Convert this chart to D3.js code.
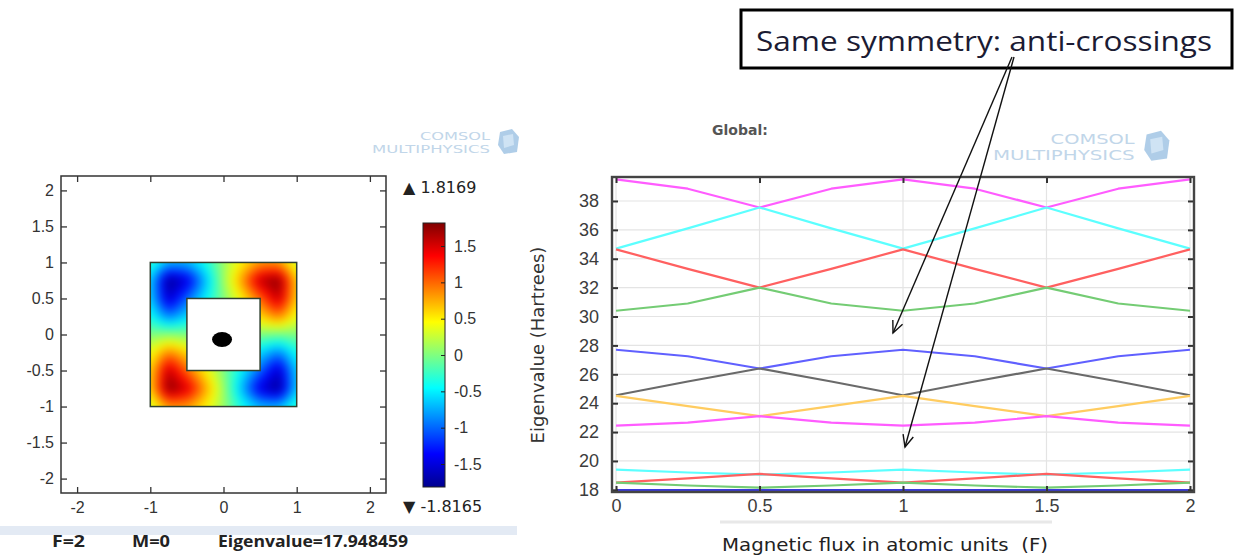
<!DOCTYPE html>
<html>
<head>
<meta charset="utf-8">
<script src="https://cdn.jsdelivr.net/npm/d3@7"></script>
<style>
  body { margin: 0; background: #fff; }
  svg { display: block; }
</style>
</head>
<body>
<svg id="chart"></svg>
<script>
// ---- left panel: surface plot of the eigenmode ----
const fieldX = [-1, -0.75, -0.5, -0.25, 0, 0.25, 0.5, 0.75, 1]
const fieldY = [1, 0.75, 0.5, 0.25, 0, -0.25, -0.5, -0.75, -1]
// rows follow fieldY (top to bottom), columns follow fieldX
const fieldValues = [
  [-0.3, -0.7, -0.7, -0.4, 0.1, 0.5, 0.8, 0.8, 0.3],
  [-0.6, -1.8, -1.5, -0.7, 0.1, 0.8, 1.6, 1.8, 0.6],
  [-0.6, -1.6, -1.0, -0.5, 0.0, 0.5, 1.0, 1.6, 0.6],
  [-0.4, -0.9, -0.6, -0.3, 0.0, 0.3, 0.6, 0.9, 0.4],
  [0.0, 0.05, 0.0, 0.0, 0.0, 0.0, 0.0, -0.05, 0.0],
  [0.4, 0.9, 0.6, 0.3, 0.0, -0.3, -0.6, -0.9, -0.4],
  [0.6, 1.6, 1.0, 0.5, 0.0, -0.5, -1.0, -1.6, -0.6],
  [0.6, 1.8, 1.5, 0.8, 0.1, -0.7, -1.5, -1.8, -0.6],
  [0.3, 0.8, 0.8, 0.5, 0.1, -0.4, -0.7, -0.7, -0.3]
]
const fieldMin = -1.8165
const fieldMax = 1.8169
const plotTicksX = [-2, -1, 0, 1, 2]
const plotTicksY = [-2, -1.5, -1, -0.5, 0, 0.5, 1, 1.5, 2]
const barTicks = [-1.5, -1, -0.5, 0, 0.5, 1, 1.5]
const infoLabels = ['F=2', 'M=0', 'Eigenvalue=17.948459']

// ---- right panel: eigenvalues vs magnetic flux ----
const flux = [0, 0.25, 0.5, 0.75, 1, 1.25, 1.5, 1.75, 2]
const eMagentaTop = [39.5, 38.85, 37.55, 38.85, 39.5, 38.85, 37.55, 38.85, 39.5]
const eCyanTop = [34.7, 36.1, 37.55, 36.1, 34.7, 36.1, 37.55, 36.1, 34.7]
const eRedTop = [34.65, 33.3, 32.0, 33.3, 34.65, 33.3, 32.0, 33.3, 34.65]
const eGreenTop = [30.4, 30.9, 32.0, 30.9, 30.4, 30.9, 32.0, 30.9, 30.4]
const eBlueTop = [27.7, 27.25, 26.4, 27.25, 27.7, 27.25, 26.4, 27.25, 27.7]
const eGray = [24.55, 25.5, 26.4, 25.5, 24.55, 25.5, 26.4, 25.5, 24.55]
const eOrange = [24.5, 23.8, 23.1, 23.8, 24.5, 23.8, 23.1, 23.8, 24.5]
const eMagentaLow = [22.45, 22.65, 23.1, 22.65, 22.45, 22.65, 23.1, 22.65, 22.45]
const eCyanLow = [19.4, 19.2, 19.05, 19.2, 19.4, 19.2, 19.05, 19.2, 19.4]
const eRedLow = [18.5, 18.8, 19.1, 18.8, 18.5, 18.8, 19.1, 18.8, 18.5]
const eGreenLow = [18.5, 18.3, 18.15, 18.3, 18.5, 18.3, 18.15, 18.3, 18.5]
const eBlueLow = [17.95, 17.95, 17.95, 17.95, 17.95, 17.95, 17.95, 17.95, 17.95]
const fluxTicks = [0, 0.5, 1, 1.5, 2]
const eigenTicks = [18, 20, 22, 24, 26, 28, 30, 32, 34, 36, 38]

const W = 1235, H = 559
const svg = d3.select('#chart').attr('width', W).attr('height', H)
svg.append('rect').attr('width', W).attr('height', H).attr('fill', '#fff')

const tickFont = 'DejaVu Sans, sans-serif'
const plain = d => String(d)   // keep ASCII hyphen for negatives

// jet-like colour map (COMSOL Rainbow)
const jetStops = [0, 0.125, 0.375, 0.625, 0.875, 1]
const jet = d3.scaleLinear()
  .domain(jetStops.map(t => fieldMin + (fieldMax - fieldMin) * t))
  .range(['#00008f', '#0000ff', '#00ffff', '#ffff00', '#ff0000', '#800000'])
  .clamp(true)

// ================= left panel =================
const lx = d3.scaleLinear().domain([-2.22, 2.22]).range([61, 386])
const ly = d3.scaleLinear().domain([-2.2, 2.2]).range([493, 176])

// field image rendered on a canvas, then clipped to the ring domain
const fx0 = lx(-1), fx1 = lx(1), fy0 = ly(1), fy1 = ly(-1)
const pad = 12
const cw = Math.round(fx1 - fx0) + 2 * pad
const ch = Math.round(fy1 - fy0) + 2 * pad

function sampleField(x, y) {
  const step = fieldX[1] - fieldX[0]
  const n = fieldX.length - 1
  let gx = (x - fieldX[0]) / step
  let gy = (fieldY[0] - y) / step
  gx = Math.max(0, Math.min(n - 1e-6, gx))
  gy = Math.max(0, Math.min(n - 1e-6, gy))
  const i = Math.floor(gx), j = Math.floor(gy)
  const tx = gx - i, ty = gy - j
  const a = fieldValues[j][i], b = fieldValues[j][i + 1]
  const c = fieldValues[j + 1][i], d = fieldValues[j + 1][i + 1]
  return (a * (1 - tx) + b * tx) * (1 - ty) + (c * (1 - tx) + d * tx) * ty
}

const raw = document.createElement('canvas')
raw.width = cw; raw.height = ch
const rctx = raw.getContext('2d')
const img = rctx.createImageData(cw, ch)
for (let py = 0; py < ch; py++) {
  for (let px = 0; px < cw; px++) {
    const v = sampleField(lx.invert(fx0 - pad + px + 0.5), ly.invert(fy0 - pad + py + 0.5))
    const c = d3.rgb(jet(v))
    const k = (py * cw + px) * 4
    img.data[k] = c.r; img.data[k + 1] = c.g; img.data[k + 2] = c.b; img.data[k + 3] = 255
  }
}
rctx.putImageData(img, 0, 0)
const smooth = document.createElement('canvas')
smooth.width = cw; smooth.height = ch
const sctx = smooth.getContext('2d')
sctx.filter = 'blur(5px)'
sctx.drawImage(raw, 0, 0)

const defs = svg.append('defs')
defs.append('clipPath').attr('id', 'ring')
  .append('path')
  .attr('clip-rule', 'evenodd')
  .attr('d', `M${lx(-1)},${ly(1)}H${lx(1)}V${ly(-1)}H${lx(-1)}Z` +
             `M${lx(-0.5)},${ly(0.5)}H${lx(0.5)}V${ly(-0.5)}H${lx(-0.5)}Z`)

svg.append('image')
  .attr('x', fx0 - pad).attr('y', fy0 - pad)
  .attr('width', cw).attr('height', ch)
  .attr('preserveAspectRatio', 'none')
  .attr('href', smooth.toDataURL())
  .attr('clip-path', 'url(#ring)')

svg.append('rect')
  .attr('x', lx(-1)).attr('y', ly(1))
  .attr('width', lx(1) - lx(-1)).attr('height', ly(-1) - ly(1))
  .attr('fill', 'none').attr('stroke', '#2f3f2f').attr('stroke-width', 1.5)
svg.append('rect')
  .attr('x', lx(-0.5)).attr('y', ly(0.5))
  .attr('width', lx(0.5) - lx(-0.5)).attr('height', ly(-0.5) - ly(0.5))
  .attr('fill', '#fff').attr('stroke', '#2f3f2f').attr('stroke-width', 1.5)
svg.append('ellipse')
  .attr('cx', lx(-0.02)).attr('cy', ly(-0.07))
  .attr('rx', 10).attr('ry', 7.5).attr('fill', '#000')

// left frame and inward ticks
const leftAxes = svg.append('g').attr('font-family', tickFont)
leftAxes.append('g').attr('transform', `translate(${lx.range()[0]},0)`)
  .call(d3.axisLeft(ly).tickValues(plotTicksY).tickSize(-6).tickPadding(7).tickFormat(plain))
leftAxes.append('g').attr('transform', `translate(${lx.range()[1]},0)`)
  .call(d3.axisRight(ly).tickValues(plotTicksY).tickSize(-6).tickFormat(''))
leftAxes.append('g').attr('transform', `translate(0,${ly.range()[0]})`)
  .call(d3.axisBottom(lx).tickValues(plotTicksX).tickSize(-6).tickPadding(9).tickFormat(plain))
leftAxes.append('g').attr('transform', `translate(0,${ly.range()[1]})`)
  .call(d3.axisTop(lx).tickValues(plotTicksX).tickSize(-6).tickFormat(''))
leftAxes.selectAll('.domain').remove()
leftAxes.selectAll('.tick line').attr('stroke', '#333').attr('stroke-width', 1.3)
leftAxes.selectAll('.tick text').attr('font-size', 16).attr('fill', '#333')
svg.append('rect')
  .attr('x', lx.range()[0]).attr('y', ly.range()[1])
  .attr('width', lx.range()[1] - lx.range()[0]).attr('height', ly.range()[0] - ly.range()[1])
  .attr('fill', 'none').attr('stroke', '#333').attr('stroke-width', 1.5)

// colour bar
const cb = d3.scaleLinear().domain([fieldMin, fieldMax]).range([487, 223])
const grad = defs.append('linearGradient').attr('id', 'jetGrad')
  .attr('x1', 0).attr('y1', 1).attr('x2', 0).attr('y2', 0)
grad.selectAll('stop').data(jetStops).enter().append('stop')
  .attr('offset', d => d)
  .attr('stop-color', d => jet(fieldMin + (fieldMax - fieldMin) * d))
svg.append('rect')
  .attr('x', 423).attr('y', cb(fieldMax)).attr('width', 22)
  .attr('height', cb(fieldMin) - cb(fieldMax))
  .attr('fill', 'url(#jetGrad)').attr('stroke', '#222').attr('stroke-width', 1)
const cbAxis = svg.append('g').attr('transform', 'translate(445,0)').attr('font-family', tickFont)
  .call(d3.axisRight(cb).tickValues(barTicks).tickSize(-4).tickPadding(9).tickFormat(plain))
cbAxis.select('.domain').remove()
cbAxis.selectAll('.tick line').attr('stroke', '#222')
cbAxis.selectAll('.tick text').attr('font-size', 16).attr('fill', '#333')

svg.append('text').attr('x', 403).attr('y', 193)
  .attr('font-family', tickFont).attr('font-size', 16).attr('fill', '#222')
  .text('\u25B2 ' + fieldMax.toFixed(4))
svg.append('text').attr('x', 403).attr('y', 512)
  .attr('font-family', tickFont).attr('font-size', 16).attr('fill', '#222')
  .text('\u25BC ' + fieldMin.toFixed(4))

// info strip under the left panel
svg.append('rect').attr('x', 0).attr('y', 526).attr('width', 517).attr('height', 9).attr('fill', '#e3eaf4')
const infoX = [52, 132, 218]
const infoW = [33, 38, 190]
svg.append('g').selectAll('text').data(infoLabels).enter().append('text')
  .attr('x', (d, i) => infoX[i]).attr('y', 547)
  .attr('font-family', 'Open Sans, sans-serif').attr('font-weight', 'bold')
  .attr('font-size', 16).attr('fill', '#222')
  .attr('textLength', (d, i) => infoW[i]).attr('lengthAdjust', 'spacingAndGlyphs')
  .text(d => d)

// COMSOL watermarks
function watermark(x, y, s) {
  const g = svg.append('g').attr('transform', `translate(${x},${y}) scale(${s})`).attr('opacity', 0.55)
  g.append('text').attr('x', 48).attr('y', 0)
    .attr('font-family', 'DejaVu Sans, sans-serif').attr('font-size', 11)
    .attr('textLength', 70).attr('lengthAdjust', 'spacingAndGlyphs')
    .attr('fill', '#8fb6d8').text('COMSOL')
  g.append('text').attr('x', 0).attr('y', 13)
    .attr('font-family', 'DejaVu Sans, sans-serif').attr('font-size', 11)
    .attr('textLength', 118).attr('lengthAdjust', 'spacingAndGlyphs')
    .attr('fill', '#8fb6d8').text('MULTIPHYSICS')
  g.append('path').attr('d', 'M128,-8 L140,-11 L147,-3 L145,12 L132,14 L126,5 Z').attr('fill', '#6fa6d6')
  g.append('path').attr('d', 'M131,-4 L141,-6 L142,5 L132,8 Z').attr('fill', '#a9cdec')
}
watermark(372, 140, 1)
watermark(993, 144, 1.2)

// ================= right panel =================
const rx = d3.scaleLinear().domain([-0.014, 2.014]).range([612, 1194])
const ry = d3.scaleLinear().domain([17.85, 39.66]).range([492, 177])

const grid = svg.append('g')
grid.selectAll('.gy').data(eigenTicks).enter().append('line')
  .attr('x1', rx.range()[0]).attr('x2', rx.range()[1])
  .attr('y1', d => ry(d)).attr('y2', d => ry(d))
  .attr('stroke', '#e4e4e4').attr('stroke-width', 1.2)
grid.selectAll('.gx').data(fluxTicks).enter().append('line')
  .attr('y1', ry.range()[0]).attr('y2', ry.range()[1])
  .attr('x1', d => rx(d)).attr('x2', d => rx(d))
  .attr('stroke', '#e4e4e4').attr('stroke-width', 1.2)

const series = [
  { values: eMagentaTop, color: '#ff5cff' },
  { values: eCyanTop, color: '#5cffff' },
  { values: eRedTop, color: '#ff6060' },
  { values: eGreenTop, color: '#74cc74' },
  { values: eBlueTop, color: '#6060ff' },
  { values: eGray, color: '#6a6a6a' },
  { values: eOrange, color: '#ffcc60' },
  { values: eMagentaLow, color: '#ff5cff' },
  { values: eCyanLow, color: '#5cffff' },
  { values: eRedLow, color: '#ff6060' },
  { values: eGreenLow, color: '#74cc74' },
  { values: eBlueLow, color: '#3a3ad8', width: 3.2 }
]
const line = d3.line().x((d, i) => rx(flux[i])).y(d => ry(d))
svg.append('g').selectAll('path').data(series).enter().append('path')
  .attr('d', d => line(d.values))
  .attr('fill', 'none')
  .attr('stroke', d => d.color)
  .attr('stroke-width', d => d.width || 2.2)
  .attr('stroke-linejoin', 'round')

const rightAxes = svg.append('g').attr('font-family', tickFont)
rightAxes.append('g').attr('transform', `translate(${rx.range()[0]},0)`)
  .call(d3.axisLeft(ry).tickValues(eigenTicks).tickSize(-6).tickPadding(13).tickFormat(plain))
rightAxes.append('g').attr('transform', `translate(${rx.range()[1]},0)`)
  .call(d3.axisRight(ry).tickValues(eigenTicks).tickSize(-6).tickFormat(''))
rightAxes.append('g').attr('transform', `translate(0,${ry.range()[0]})`)
  .call(d3.axisBottom(rx).tickValues(fluxTicks).tickSize(-6).tickPadding(7).tickFormat(plain))
rightAxes.append('g').attr('transform', `translate(0,${ry.range()[1]})`)
  .call(d3.axisTop(rx).tickValues(fluxTicks).tickSize(-6).tickFormat(''))
rightAxes.selectAll('.domain').remove()
rightAxes.selectAll('.tick line').attr('stroke', '#333').attr('stroke-width', 2)
rightAxes.selectAll('.tick text').attr('font-size', 18).attr('fill', '#3c3c3c')
svg.append('rect')
  .attr('x', rx.range()[0]).attr('y', ry.range()[1])
  .attr('width', rx.range()[1] - rx.range()[0]).attr('height', ry.range()[0] - ry.range()[1])
  .attr('fill', 'none').attr('stroke', '#444').attr('stroke-width', 2.4)

svg.append('text')
  .attr('transform', 'translate(544,345) rotate(-90)')
  .attr('text-anchor', 'middle')
  .attr('font-family', tickFont).attr('font-size', 18).attr('fill', '#333')
  .text('Eigenvalue (Hartrees)')
svg.append('line').attr('x1', 720).attr('x2', 1052).attr('y1', 522).attr('y2', 522)
  .attr('stroke', '#e8e8e8').attr('stroke-width', 3)
svg.append('text')
  .attr('x', 885).attr('y', 551).attr('text-anchor', 'middle')
  .attr('font-family', 'DejaVu Sans Condensed, DejaVu Sans, sans-serif')
  .attr('font-size', 18).attr('fill', '#222')
  .attr('textLength', 326).attr('lengthAdjust', 'spacingAndGlyphs')
  .style('white-space', 'pre')
  .text('Magnetic flux in atomic units  (F)')
svg.append('text')
  .attr('x', 712).attr('y', 135)
  .attr('font-family', tickFont).attr('font-weight', 'bold')
  .attr('font-size', 14).attr('fill', '#555')
  .text('Global:')

// ================= annotation =================
svg.append('rect').attr('x', 741).attr('y', 10).attr('width', 491).attr('height', 58)
  .attr('fill', '#fff').attr('stroke', '#000').attr('stroke-width', 3)
svg.append('text').attr('x', 756).attr('y', 51)
  .attr('font-family', 'Open Sans, sans-serif').attr('font-size', 27).attr('fill', '#1b1b33')
  .attr('textLength', 456).attr('lengthAdjust', 'spacingAndGlyphs')
  .text('Same symmetry: anti-crossings')

const arrows = [
  { x1: 1012, y1: 57, x2: 893, y2: 333 },
  { x1: 1014, y1: 57, x2: 905, y2: 447 }
]
const arrowG = svg.append('g').attr('stroke', '#111').attr('stroke-width', 1.4).attr('fill', 'none')
arrows.forEach(a => {
  arrowG.append('line').attr('x1', a.x1).attr('y1', a.y1).attr('x2', a.x2).attr('y2', a.y2)
  const ang = Math.atan2(a.y2 - a.y1, a.x2 - a.x1)
  const len = 13, spread = 0.42
  const p1 = [a.x2 - len * Math.cos(ang - spread), a.y2 - len * Math.sin(ang - spread)]
  const p2 = [a.x2 - len * Math.cos(ang + spread), a.y2 - len * Math.sin(ang + spread)]
  arrowG.append('path').attr('d', `M${p1}L${a.x2},${a.y2}L${p2}`)
})
</script>
</body>
</html>
